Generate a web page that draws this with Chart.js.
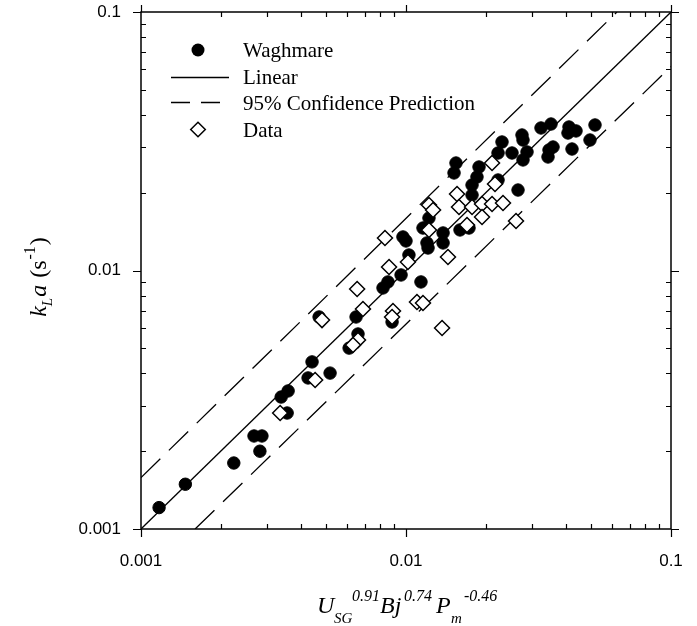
<!DOCTYPE html>
<html><head><meta charset="utf-8">
<script src="https://cdn.jsdelivr.net/npm/chart.js@4.4.0/dist/chart.umd.min.js"></script>
<style>html,body{margin:0;padding:0;background:#fff}#wrap{width:697px;height:626px}</style>
</head><body><div id="wrap"><canvas id="c" width="697" height="626"></canvas></div>
<script>
// Waghmare (filled circles)
const waghmareX = [0.00117,0.00147,0.00224,0.00267,0.00286,0.00281,0.00338,0.00359,0.00356,0.00442,0.00427,0.00517,0.00648,0.00659,0.00610,0.00886,0.00470,0.00819,0.00855,0.00958,0.01139,0.01026,0.00974,0.01000,0.01200,0.01211,0.01380,0.01380,0.01599,0.01729,0.01159,0.01221,0.01775,0.01775,0.02647,0.01544,0.01518,0.01886,0.01853,0.02225,0.02303,0.02225,0.02512,0.02740,0.02764,0.02862,0.02764,0.03232,0.03526,0.03465,0.03435,0.03588,0.04122,0.04086,0.04381,0.04231,0.05167,0.04947];
const waghmareY = [0.00121,0.00149,0.00180,0.00229,0.00229,0.00200,0.00324,0.00342,0.00281,0.00443,0.00384,0.00401,0.00661,0.00568,0.00501,0.00632,0.00661,0.00856,0.00903,0.00961,0.00903,0.01148,0.01348,0.01301,0.01278,0.01222,0.01278,0.01397,0.01435,0.01460,0.01460,0.01596,0.02141,0.01959,0.02048,0.02605,0.02384,0.02514,0.02300,0.02239,0.03141,0.02848,0.02848,0.03343,0.03197,0.02874,0.02677,0.03559,0.03687,0.02925,0.02749,0.03004,0.03590,0.03403,0.03466,0.02951,0.03655,0.03197];
// Data (open diamonds)
const dataX = [0.00335,0.00454,0.00482,0.00688,0.00654,0.00659,0.00631,0.00893,0.00886,0.01100,0.01159,0.01368,0.00863,0.01017,0.00833,0.01221,0.01440,0.01699,0.01221,0.01265,0.01558,0.01585,0.01775,0.01936,0.02112,0.02323,0.01936,0.02601,0.02167,0.02112];
const dataY = [0.00281,0.00377,0.00643,0.00710,0.00848,0.00538,0.00515,0.00697,0.00661,0.00755,0.00749,0.00599,0.01032,0.01079,0.01336,0.01435,0.01128,0.01500,0.01792,0.01714,0.01977,0.01760,0.01760,0.01808,0.01808,0.01824,0.01611,0.01554,0.02160,0.02605];
// Linear fit and 95% prediction band
const linearX = [0.001, 0.1];
const linearY = [0.001, 0.1];
const upperX = [0.001, 0.0625];
const upperY = [0.00158, 0.1];
const lowerX = [0.0016, 0.1];
const lowerY = [0.001, 0.0615];
// ticks
const tickValues = [0.001,0.002,0.003,0.004,0.005,0.006,0.007,0.008,0.009,0.01,0.02,0.03,0.04,0.05,0.06,0.07,0.08,0.09,0.1];
const majorValues = [0.001, 0.01, 0.1];
const majorLabels = ['0.001', '0.01', '0.1'];
const legendLabels = ['Waghmare', 'Linear', '95% Confidence Prediction', 'Data'];

function zip(xs, ys){ return xs.map((x,i)=>({x:x, y:ys[i]})); }
function majorIndex(v){ for(let i=0;i<majorValues.length;i++){ if(Math.abs(v-majorValues[i])/majorValues[i] < 1e-6) return i; } return -1; }

const SERIF = '"Liberation Serif", "Times New Roman", serif';
const SANS = '"Liberation Sans", Arial, sans-serif';

function drawAt(ctx, pieces, baseY){
  pieces.forEach(p=>{ ctx.font = p.font; ctx.fillText(p.t, p.x, baseY + (p.dy||0)); });
}
function drawPieces(ctx, pieces, x, y){
  let cx = x;
  pieces.forEach(p=>{
    ctx.font = p.font;
    ctx.fillText(p.t, cx, y + (p.dy||0));
    cx += ctx.measureText(p.t).width + (p.gap||0);
  });
  return cx - x;
}
function measurePieces(ctx, pieces){
  let w=0; pieces.forEach(p=>{ctx.font=p.font; w+=ctx.measureText(p.t).width+(p.gap||0);}); return w;
}

const framePlugin = {
  id:'frame',
  afterDraw(chart){
    const ctx = chart.ctx, a = chart.chartArea;
    const xs = chart.scales.x, ys = chart.scales.y;
    ctx.save();
    ctx.strokeStyle = '#000'; ctx.lineWidth = 1.5;
    ctx.strokeRect(a.left, a.top, a.right-a.left, a.bottom-a.top);
    ctx.lineWidth = 1.2;
    ctx.beginPath();
    xs.ticks.forEach(t=>{
      const px = Math.round(xs.getPixelForValue(t.value)) + 0.5;
      if (majorIndex(t.value) >= 0){
        ctx.moveTo(px, a.bottom); ctx.lineTo(px, a.bottom+8);
        ctx.moveTo(px, a.top); ctx.lineTo(px, a.top-7);
      } else {
        ctx.moveTo(px, a.bottom); ctx.lineTo(px, a.bottom-5);
        ctx.moveTo(px, a.top); ctx.lineTo(px, a.top+5);
      }
    });
    ys.ticks.forEach(t=>{
      const py = Math.round(ys.getPixelForValue(t.value)) + 0.5;
      if (majorIndex(t.value) >= 0){
        ctx.moveTo(a.left, py); ctx.lineTo(a.left-8, py);
        ctx.moveTo(a.right, py); ctx.lineTo(a.right+8, py);
      } else {
        ctx.moveTo(a.left, py); ctx.lineTo(a.left+5, py);
        ctx.moveTo(a.right, py); ctx.lineTo(a.right-5, py);
      }
    });
    ctx.stroke();

    // legend
    ctx.fillStyle = '#000';
    ctx.beginPath(); ctx.arc(198, 50, 6.5, 0, Math.PI*2); ctx.fill();
    ctx.lineWidth = 1.3;
    ctx.beginPath(); ctx.moveTo(171, 77.5); ctx.lineTo(229, 77.5); ctx.stroke();
    ctx.setLineDash([19, 11]);
    ctx.beginPath(); ctx.moveTo(171, 102.5); ctx.lineTo(229, 102.5); ctx.stroke();
    ctx.setLineDash([]);
    ctx.lineWidth = 1.5;
    ctx.fillStyle = '#fff';
    ctx.beginPath(); ctx.moveTo(198-7.3,129.5); ctx.lineTo(198,129.5-7.3); ctx.lineTo(198+7.3,129.5); ctx.lineTo(198,129.5+7.3); ctx.closePath(); ctx.fill(); ctx.stroke();
    ctx.fillStyle = '#000';
    ctx.font = '21px ' + SERIF;
    ctx.textAlign = 'left'; ctx.textBaseline = 'alphabetic';
    const baselines = [57, 83.5, 109.5, 136.5];
    legendLabels.forEach((l,i)=>ctx.fillText(l, 243, baselines[i]));

    // x title
    const IM = 'italic 24px ' + SERIF, IS = 'italic 15px ' + SERIF, IP = 'italic 16px ' + SERIF;
    drawAt(ctx, [
      {t:'U', font:IM, x:317}, {t:'SG', font:IS, dy:10, x:334}, {t:'0.91', font:IP, dy:-12, x:352},
      {t:'Bj', font:IM, x:380}, {t:'0.74', font:IP, dy:-12, x:404},
      {t:'P', font:IM, x:436}, {t:'m', font:IS, dy:10, x:451}, {t:'-0.46', font:IP, dy:-12, x:464}
    ], 613);

    // y title
    const NM = '24px ' + SERIF, NS = '16px ' + SERIF;
    const yp = [
      {t:'k', font:IM}, {t:'L', font:IS, dy:6, gap:1}, {t:'a', font:IM, gap:1},
      {t:' (', font:NM}, {t:'s', font:NM, gap:1}, {t:'-1', font:NS, dy:-11, gap:1}, {t:')', font:NM}
    ];
    ctx.translate(46, 277);
    ctx.rotate(-Math.PI/2);
    const w = measurePieces(ctx, yp);
    drawPieces(ctx, yp, -w/2, 0);
    ctx.restore();
  }
};

function zeroPad(s){ s.paddingTop = 0; s.paddingBottom = 0; s.paddingLeft = 0; s.paddingRight = 0; }

new Chart(document.getElementById('c'), {
  type: 'scatter',
  data: { datasets: [
    { label:'Data', data: zip(dataX, dataY), pointStyle:'rectRot', pointRadius:7.5, pointHoverRadius:7.5,
      backgroundColor:'#fff', borderColor:'#000', borderWidth:1.5, showLine:false },
    { label:'Waghmare', data: zip(waghmareX, waghmareY), pointStyle:'circle', pointRadius:6.2, pointHoverRadius:6.2,
      backgroundColor:'#000', borderColor:'#000', borderWidth:1, showLine:false },
    { label:'Linear', data: zip(linearX, linearY), showLine:true, borderColor:'#000', borderWidth:1.3, pointRadius:0, fill:false },
    { label:'95% Confidence Prediction', data: zip(upperX, upperY), showLine:true, borderColor:'#000', borderWidth:1.3, borderDash:[27,12], pointRadius:0, fill:false },
    { label:'95% Confidence Prediction (lower)', data: zip(lowerX, lowerY), showLine:true, borderColor:'#000', borderWidth:1.3, borderDash:[27,12], pointRadius:0, fill:false }
  ]},
  options: {
    responsive:false, animation:false, devicePixelRatio:1,
    layout:{ padding:{ left:0, right:26, top:12, bottom:0 } },
    plugins:{ legend:{ display:false }, tooltip:{ enabled:false } },
    events: [],
    scales:{
      x:{ type:'logarithmic', position:'bottom', min:0.001, max:0.1,
        grid:{ display:false, drawTicks:false }, border:{ display:false },
        afterBuildTicks(s){ s.ticks = tickValues.map(v=>({value:v})); },
        afterFit(s){ s.height = 97; zeroPad(s); },
        ticks:{ autoSkip:false, maxRotation:0, minRotation:0, padding:22, color:'#000',
          font:{ family:SANS, size:17 },
          callback(v){ const i = majorIndex(v); return i>=0 ? majorLabels[i] : ''; } }
      },
      y:{ type:'logarithmic', position:'left', min:0.001, max:0.1,
        grid:{ display:false, drawTicks:false }, border:{ display:false },
        afterBuildTicks(s){ s.ticks = tickValues.map(v=>({value:v})); },
        afterFit(s){ s.width = 141; zeroPad(s); },
        ticks:{ autoSkip:false, padding:20, color:'#000',
          font:{ family:SANS, size:17 },
          callback(v){ const i = majorIndex(v); return i>=0 ? majorLabels[i] : ''; } }
      }
    }
  },
  plugins:[framePlugin]
});
</script></body></html>
